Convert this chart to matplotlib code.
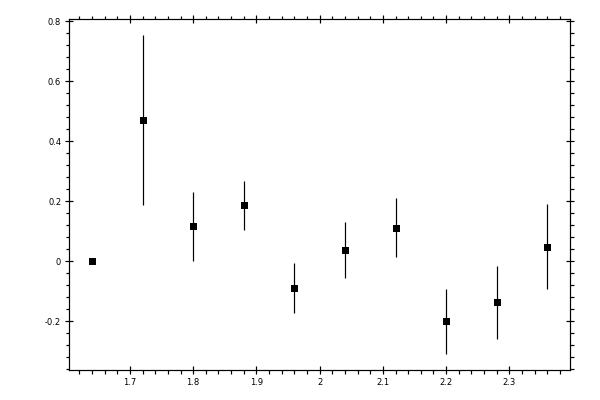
import matplotlib
matplotlib.use("Agg")
import matplotlib.pyplot as plt
from matplotlib.ticker import MultipleLocator, FuncFormatter

x = [1.64, 1.72, 1.80, 1.88, 1.96, 2.04, 2.12, 2.20, 2.28, 2.36]
y = [0.0, 0.471, 0.117, 0.187, -0.090, 0.037, 0.112, -0.200, -0.137, 0.049]
yerr = [0.0, 0.284, 0.115, 0.082, 0.083, 0.094, 0.099, 0.109, 0.122, 0.142]

px = 0.72  # one pixel in points at 100 dpi
plt.rcParams['font.family'] = ['DejaVu Sans']

fig = plt.figure(figsize=(6, 4), dpi=100)
ax = fig.add_axes([0.1155, 0.075, 0.9500 - 0.1155, 0.9525 - 0.075])

ax.errorbar(x, y, yerr=yerr, fmt='s', color='black', ms=7 * px, mew=0,
            elinewidth=1.2 * px, capsize=2.6 * px, capthick=1.4 * px, ecolor='black')

ax.margins(x=0.05, y=0.05)

ax.xaxis.set_major_locator(MultipleLocator(0.1))
ax.xaxis.set_minor_locator(MultipleLocator(0.02))
ax.yaxis.set_major_locator(MultipleLocator(0.2))
ax.yaxis.set_minor_locator(MultipleLocator(0.04))

def fmt(v, pos):
    s = "%.1f" % v
    if abs(v) < 1e-9:
        return "0"
    if s.endswith(".0"):
        s = s[:-2]
    return s

ax.xaxis.set_major_formatter(FuncFormatter(fmt))
ax.yaxis.set_major_formatter(FuncFormatter(fmt))

for s in ax.spines.values():
    s.set_linewidth(1.2 * px)

ax.tick_params(which='major', direction='inout', length=8 * px, width=1.2 * px,
               top=True, right=True, labelsize=6, pad=3)
ax.tick_params(which='minor', direction='out', length=3.5 * px, width=1.2 * px,
               top=True, right=True)

fig.savefig("out.png", dpi=100)
